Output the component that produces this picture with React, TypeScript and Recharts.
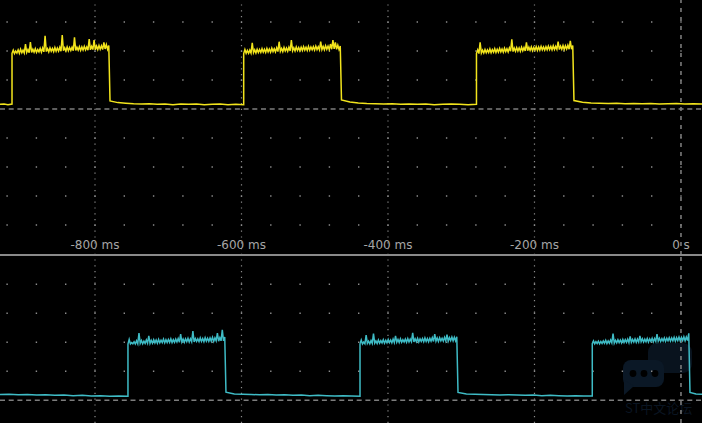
import { LineChart, Line, XAxis, YAxis, ReferenceLine } from 'recharts';

// time window of the capture, ms (0 s = trigger)
const T_MIN = -929.7;
const T_MAX = 28.7;

const timeTicks = [-800, -600, -400, -200, 0];
const timeLabels = ['-800 ms', '-600 ms', '-400 ms', '-200 ms', '0 s'];
const topRows = [3, 2, 1, -1, -2, -3, -4];
const bottomRows = [1, 2, 3, 4];

// CH1 (yellow): rise / fall times in ms
const ch1Edges = [-913.3, -779.5, -597.0, -463.5, -279.2, -146.1];

// CH1 while high: lower edge and upper edge of the noise band, volts
const ch1Floor = [
    [1.92, 1.91, 1.93, 1.92, 1.94, 1.93, 1.95, 1.94, 1.95, 1.96, 1.95, 1.97, 1.96, 1.97, 1.98, 1.97, 1.99, 1.98, 1.99, 2.00, 1.99, 2.01, 2.00, 2.01, 2.02, 2.01, 2.02, 2.03, 2.02, 2.03, 2.04, 2.03, 2.04, 2.05, 2.04, 2.05, 2.06, 2.05, 2.07, 2.06],
    [1.91, 1.92, 1.92, 1.93, 1.94, 1.93, 1.95, 1.95, 1.96, 1.95, 1.97, 1.96, 1.98, 1.97, 1.98, 1.99, 1.98, 2.00, 1.99, 2.00, 2.01, 2.00, 2.02, 2.01, 2.02, 2.03, 2.02, 2.03, 2.04, 2.03, 2.05, 2.04, 2.05, 2.04, 2.06, 2.05, 2.06, 2.07, 2.06, 2.05],
    [1.92, 1.91, 1.93, 1.93, 1.94, 1.95, 1.94, 1.96, 1.95, 1.96, 1.97, 1.96, 1.98, 1.97, 1.99, 1.98, 1.99, 2.00, 1.99, 2.01, 2.00, 2.01, 2.02, 2.01, 2.03, 2.02, 2.03, 2.04, 2.03, 2.04, 2.05, 2.04, 2.05, 2.06, 2.05, 2.06, 2.05, 2.07, 2.06, 2.06],
];
const ch1Top = [
    [2.03, 2.00, 2.04, 2.06, 2.03, 2.24, 2.05, 2.31, 2.06, 2.08, 2.05, 2.09, 2.10, 2.52, 2.08, 2.11, 2.09, 2.12, 2.10, 2.13, 2.55, 2.11, 2.14, 2.12, 2.13, 2.47, 2.13, 2.15, 2.14, 2.16, 2.14, 2.41, 2.16, 2.38, 2.17, 2.19, 2.18, 2.30, 2.22, 2.19],
    [2.05, 2.02, 2.03, 2.28, 2.04, 2.06, 2.05, 2.08, 2.06, 2.09, 2.07, 2.10, 2.08, 2.11, 2.32, 2.09, 2.12, 2.10, 2.13, 2.38, 2.11, 2.14, 2.12, 2.13, 2.15, 2.13, 2.16, 2.14, 2.15, 2.17, 2.15, 2.32, 2.16, 2.18, 2.17, 2.24, 2.38, 2.30, 2.20, 2.17],
    [2.04, 2.30, 2.03, 2.05, 2.04, 2.07, 2.05, 2.08, 2.06, 2.09, 2.07, 2.10, 2.08, 2.11, 2.40, 2.10, 2.12, 2.11, 2.13, 2.12, 2.30, 2.13, 2.14, 2.12, 2.15, 2.14, 2.16, 2.14, 2.15, 2.17, 2.16, 2.18, 2.16, 2.32, 2.17, 2.19, 2.18, 2.20, 2.35, 2.19],
];

// CH1 while low, volts
const ch1Low = [
    [0.16, 0.17, 0.15, 0.17],
    [0.28, 0.22, 0.20, 0.18, 0.17, 0.18, 0.16, 0.17, 0.15, 0.17, 0.16, 0.17, 0.15, 0.16, 0.17, 0.15, 0.16, 0.15],
    [0.31, 0.24, 0.21, 0.19, 0.18, 0.17, 0.18, 0.16, 0.17, 0.16, 0.17, 0.15, 0.16, 0.17, 0.16, 0.15, 0.16],
    [0.29, 0.23, 0.21, 0.20, 0.19, 0.20, 0.18, 0.19, 0.18, 0.19, 0.17, 0.18, 0.19, 0.17, 0.18, 0.17],
];

// CH2 (cyan): rise / fall times in ms
const ch2Edges = [-755.0, -621.2, -438.2, -304.4, -121.1, 12.3];

const ch2Floor = [
    [1.94, 1.94, 1.95, 1.94, 1.95, 1.96, 1.95, 1.96, 1.97, 1.96, 1.97, 1.98, 1.97, 1.98, 1.99, 1.98, 1.99, 2.00, 1.99, 2.00, 2.01, 2.00, 2.01, 2.00, 2.02, 2.01, 2.02, 2.01, 2.03, 2.02, 2.03, 2.02, 2.04, 2.03, 2.04, 2.03, 2.05, 2.04, 2.05, 2.05],
    [1.95, 1.94, 1.95, 1.96, 1.95, 1.96, 1.97, 1.96, 1.97, 1.98, 1.97, 1.98, 1.99, 1.98, 1.99, 2.00, 1.99, 2.00, 2.01, 2.00, 2.01, 2.02, 2.01, 2.02, 2.01, 2.03, 2.02, 2.03, 2.02, 2.04, 2.03, 2.04, 2.03, 2.05, 2.04, 2.05, 2.04, 2.06, 2.05, 2.05],
    [1.95, 1.95, 1.96, 1.95, 1.96, 1.97, 1.96, 1.97, 1.98, 1.97, 1.98, 1.99, 1.98, 1.99, 2.00, 1.99, 2.00, 2.01, 2.00, 2.01, 2.02, 2.01, 2.02, 2.01, 2.03, 2.02, 2.03, 2.04, 2.03, 2.04, 2.03, 2.05, 2.04, 2.05, 2.04, 2.06, 2.05, 2.06, 2.05, 2.06],
];
const ch2Top = [
    [2.10, 1.99, 2.02, 2.05, 2.32, 2.06, 2.04, 2.08, 2.22, 2.07, 2.09, 2.08, 2.10, 2.07, 2.11, 2.09, 2.10, 2.12, 2.09, 2.11, 2.13, 2.28, 2.11, 2.12, 2.14, 2.12, 2.39, 2.13, 2.12, 2.15, 2.13, 2.16, 2.14, 2.15, 2.17, 2.15, 2.32, 2.16, 2.43, 2.18],
    [2.08, 2.01, 2.25, 2.04, 2.06, 2.30, 2.05, 2.08, 2.06, 2.09, 2.07, 2.10, 2.08, 2.11, 2.22, 2.10, 2.12, 2.09, 2.11, 2.13, 2.11, 2.33, 2.12, 2.14, 2.12, 2.13, 2.15, 2.13, 2.14, 2.16, 2.28, 2.15, 2.16, 2.14, 2.17, 2.26, 2.16, 2.18, 2.17, 2.19],
    [2.05, 2.02, 2.04, 2.03, 2.05, 2.07, 2.05, 2.08, 2.30, 2.07, 2.09, 2.08, 2.10, 2.09, 2.11, 2.20, 2.10, 2.12, 2.11, 2.22, 2.12, 2.11, 2.13, 2.12, 2.14, 2.13, 2.28, 2.14, 2.13, 2.15, 2.14, 2.16, 2.15, 2.17, 2.16, 2.18, 2.17, 2.19, 2.18, 2.31],
];

const ch2Low = [
    [0.20, 0.21, 0.19, 0.20, 0.18, 0.19, 0.17, 0.18, 0.16, 0.17, 0.15, 0.16, 0.14, 0.15, 0.14],
    [0.28, 0.22, 0.21, 0.20, 0.19, 0.20, 0.18, 0.19, 0.17, 0.18, 0.16, 0.17, 0.16, 0.15, 0.16, 0.15, 0.14],
    [0.27, 0.22, 0.21, 0.20, 0.19, 0.18, 0.19, 0.18, 0.17, 0.18, 0.16, 0.17, 0.16, 0.15, 0.16, 0.15, 0.15],
    [0.27, 0.22, 0.21],
];

type Pt = { t: number; v: number };

// lay the sample lists out in time between the edges; while high the trace
// swings between the band's lower and upper edge each sample
function buildTrace(edges: number[], floors: number[][], tops: number[][], lows: number[][]): Pt[] {
    const pts: Pt[] = [];
    lows.forEach((low, j) => {
        const a = j === 0 ? T_MIN : edges[2 * j - 1];
        const b = j === lows.length - 1 ? T_MAX : edges[2 * j];
        low.forEach((v, i) => pts.push({ t: a + (i * (b - a)) / (low.length - 1), v }));
        const floor = floors[j];
        const top = tops[j];
        if (floor && top) {
            const r = edges[2 * j];
            const step = (edges[2 * j + 1] - r) / floor.length;
            floor.forEach((v, i) => {
                pts.push({ t: r + i * step, v });
                pts.push({ t: r + i * step + step / 2, v: top[i] });
            });
        }
    });
    return pts;
}

const ch1Data = buildTrace(ch1Edges, ch1Floor, ch1Top, ch1Low);
const ch2Data = buildTrace(ch2Edges, ch2Floor, ch2Top, ch2Low);

const GRID = '#8c8c8c';

const TimeLabel = ({ viewBox, text }: any) => (
    <text x={viewBox.x} y={249} textAnchor="middle" fill="#a6a6a6" fontSize={12} fontFamily="'DejaVu Sans', sans-serif">
        {text}
    </text>
);

function gridLines(rows: number[], withLabels: boolean) {
    return [
        ...rows.map((r) => (
            <ReferenceLine key={`r${r}`} y={r} stroke={GRID} strokeWidth={1.4} strokeDasharray="1.4 27.9" strokeDashoffset={22.9} />
        )),
        ...timeTicks.map((t, i) => (
            <ReferenceLine
                key={`v${t}`}
                x={t}
                stroke={t === 0 ? '#7a7a7a' : GRID}
                strokeWidth={t === 0 ? 1.6 : 1.2}
                strokeDasharray={t === 0 ? '4 5' : '1.2 4.6'}
                label={withLabels ? <TimeLabel text={timeLabels[i]} /> : undefined}
            />
        )),
        <ReferenceLine key="gnd" y={0} stroke="#7d7d7d" strokeWidth={1.5} strokeDasharray="5 3.7" />,
    ];
}

function Watermark() {
    return (
        <svg width={702} height={423} style={{ position: 'absolute', left: 0, top: 0 }}>
            <rect x={648} y={343} width={44} height={30} rx={9} fill="#09131e" />
            <rect x={623} y={360} width={41} height={27} rx={8} fill="#0b1826" />
            <polygon points="624,380 634,386 624,395" fill="#0b1826" />
            {[633, 644, 655].map((cx) => (
                <circle key={cx} cx={cx} cy={373.5} r={3.4} fill="#000" />
            ))}
            <text x={625} y={413} fontSize={13} fill="#0a1522" fontFamily="'Noto Sans CJK SC', sans-serif">
                ST中文论坛
            </text>
        </svg>
    );
}

export default function App() {
    return (
        <div style={{ position: 'fixed', left: 0, top: 0, width: 702, height: 423, background: '#000', overflow: 'hidden' }}>
            <Watermark />
            <div style={{ position: 'absolute', left: 0, top: 0 }}>
                <LineChart width={702} height={255} data={ch1Data} margin={{ top: 0, right: 0, bottom: 0, left: 0 }}>
                    <XAxis dataKey="t" type="number" domain={[T_MIN, T_MAX]} allowDataOverflow hide />
                    <YAxis type="number" domain={[-5.0345, 3.7586]} allowDataOverflow hide />
                    {gridLines(topRows, true)}
                    <Line type="linear" dataKey="v" stroke="#f2e41c" strokeWidth={1.5} dot={false} activeDot={false} isAnimationActive={false} />
                </LineChart>
            </div>
            <div style={{ position: 'absolute', left: 0, top: 254, width: 702, height: 2, background: '#8a8a8a' }} />
            <div style={{ position: 'absolute', left: 0, top: 256 }}>
                <LineChart width={702} height={167} data={ch2Data} margin={{ top: 0, right: 0, bottom: 0, left: 0 }}>
                    <XAxis dataKey="t" type="number" domain={[T_MIN, T_MAX]} allowDataOverflow hide />
                    <YAxis type="number" domain={[-0.783, 4.976]} allowDataOverflow hide />
                    {gridLines(bottomRows, false)}
                    <Line type="linear" dataKey="v" stroke="#3fbcc6" strokeWidth={1.5} dot={false} activeDot={false} isAnimationActive={false} />
                </LineChart>
            </div>
        </div>
    );
}
